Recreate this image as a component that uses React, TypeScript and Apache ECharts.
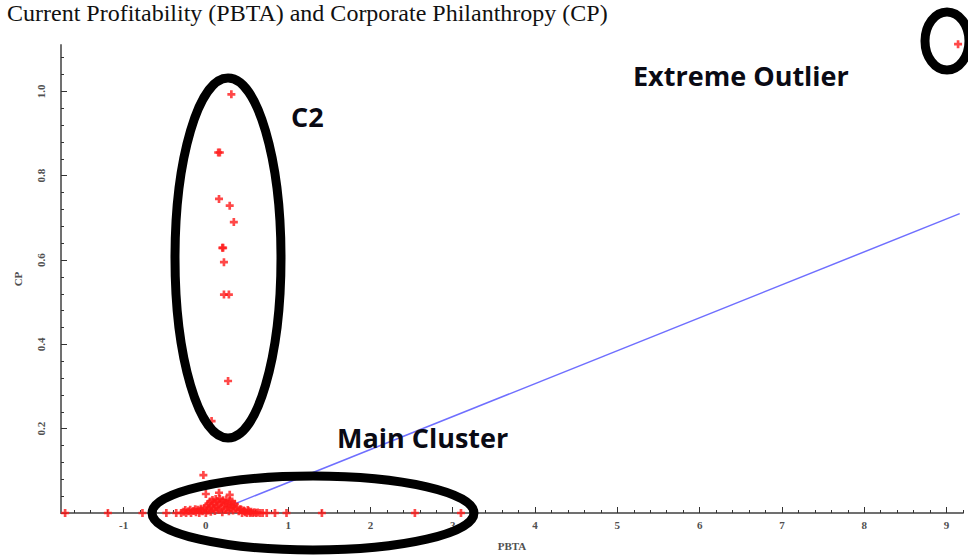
import React, { useEffect, useRef } from "react";
import * as echarts from "echarts";

// ---- data ----
const xMajorTicks = [-1, 0, 1, 2, 3, 4, 5, 6, 7, 8, 9];
const yMajorTicks = [0, 0.2, 0.4, 0.6, 0.8, 1.0];
const yTickLabels = [0.2, 0.4, 0.6, 0.8, 1.0];

// C2 group (high CP, low PBTA)
const c2X = [0.31, 0.15, 0.17, 0.16, 0.29, 0.34, 0.2, 0.21, 0.22, 0.22, 0.28, 0.27, 0.07];
const c2Y = [0.993, 0.855, 0.855, 0.745, 0.729, 0.69, 0.629, 0.629, 0.595, 0.518, 0.518, 0.313, 0.218];

// extreme outlier
const outlierX = [9.14];
const outlierY = [1.112];

// low points just above the main cluster
const lowX = [-0.03, 0.0, 0.16, 0.29];
const lowY = [0.09, 0.045, 0.048, 0.043];

// spread points lying on the axis
const axisX = [-1.71, -1.19, -0.77, -0.48, -0.36, 0.74, 0.84, 0.98, 1.41, 2.54, 3.1];
const axisY = [0, 0, 0, 0, 0, 0, 0, 0, 0, 0, 0];

// main cluster mass
const clusterX = [
  -0.3, -0.27, -0.24, -0.21, -0.18, -0.15, -0.12, -0.1, -0.08, -0.06, -0.04, -0.02, 0.0, 0.01,
  0.02, 0.03, 0.04, 0.05, 0.06, 0.07, 0.08, 0.09, 0.1, 0.11, 0.12, 0.13, 0.14, 0.15, 0.16, 0.17,
  0.18, 0.19, 0.2, 0.21, 0.22, 0.23, 0.24, 0.25, 0.26, 0.27, 0.28, 0.29, 0.3, 0.31, 0.32, 0.33,
  0.34, 0.35, 0.36, 0.38, 0.4, 0.42, 0.44, 0.46, 0.48, 0.5, 0.52, 0.54, 0.57,
  0.59, 0.61, 0.63, 0.66, 0.69, -0.25, -0.19, -0.13, -0.07, 0.43, 0.47, 0.51, 0.55,
];
const clusterY = [
  0, 0.003, 0, 0.004, 0, 0.005, 0.002, 0.008, 0, 0.01, 0.004, 0.012, 0, 0.016,
  0.006, 0.022, 0.01, 0.027, 0.003, 0.018, 0.031, 0.012, 0.024, 0.005, 0.033, 0.015, 0.028, 0.008, 0.02, 0.034,
  0.011, 0.026, 0.002, 0.03, 0.017, 0.024, 0.007, 0.032, 0.014, 0.022, 0.004, 0.029, 0.012, 0.019, 0.027, 0.006,
  0.016, 0.022, 0.01, 0.014, 0.004, 0.009, 0, 0.006, 0.002, 0, 0.004, 0, 0,
  0.002, 0, 0.001, 0, 0, 0.007, 0.008, 0.009, 0.006, 0.008, 0.004, 0.007, 0.003,
];

// fitted regression line (end points)
const fitX = [0.29, 9.16];
const fitY = [0.017, 0.71];

const PLUS = "path://M3,0L6,0L6,3L9,3L9,6L6,6L6,9L3,9L3,6L0,6L0,3L3,3Z";

function zip(xs: number[], ys: number[]) {
  return xs.map((x, i) => [x, ys[i]]);
}

function minorBetween(majors: number[], step: number, lo: number, hi: number) {
  const out: number[] = [];
  const n = Math.round((hi - lo) / step);
  for (let i = 0; i <= n; i++) {
    const v = +(lo + i * step).toFixed(4);
    if (!majors.some((m) => Math.abs(m - v) < 1e-6)) out.push(v);
  }
  return out;
}

const X_MIN = -1.76;
const X_MAX = 9.2;
const Y_MIN = 0;
const Y_MAX = 1.11;

export default function App() {
  const ref = useRef<HTMLDivElement>(null);
  useEffect(() => {
    if (!ref.current) return;
    const chart = echarts.init(ref.current, undefined, { renderer: "svg" });
    const axisColor = "#707070";
    const labelStyle = {
      fontFamily: "Liberation Serif",
      fontSize: 11,
      fontWeight: "bold" as const,
      color: "#505050",
    };
    const xMinor = minorBetween(xMajorTicks, 0.2, -1.6, 9.2);
    const yMinor = minorBetween(yMajorTicks, 0.04, 0.04, 1.08);
    const allPoints = [
      ...zip(clusterX, clusterY),
      ...zip(axisX, axisY),
      ...zip(lowX, lowY),
      ...zip(c2X, c2Y),
      ...zip(outlierX, outlierY),
    ];
    const annot = {
      fontFamily: "Open Sans",
      fontWeight: "bold" as const,
      fontSize: 27,
      fill: "#0a0a14",
      verticalAlign: "middle" as const,
    };
    chart.setOption({
      animation: false,
      grid: { left: 61, right: 5, top: 45, bottom: 42, containLabel: false },
      xAxis: [
        {
          type: "value",
          min: X_MIN,
          max: X_MAX,
          position: "bottom",
          name: "PBTA",
          nameLocation: "middle",
          nameGap: 27,
          nameTextStyle: { ...labelStyle, fontSize: 11 },
          axisLine: { show: true, onZero: false, lineStyle: { color: axisColor, width: 2 } },
          axisTick: { show: true, inside: true, length: 6, customValues: xMajorTicks, lineStyle: { color: "#333", width: 1 } },
          axisLabel: { show: true, margin: 6, customValues: xMajorTicks, ...labelStyle, formatter: (v: number) => String(Math.round(v)) },
          splitLine: { show: false },
        },
        {
          type: "value",
          min: X_MIN,
          max: X_MAX,
          position: "bottom",
          axisLine: { show: false, onZero: false },
          axisTick: { show: true, inside: true, length: 3, customValues: xMinor, lineStyle: { color: "#333", width: 1 } },
          axisLabel: { show: false },
          splitLine: { show: false },
        },
      ],
      yAxis: [
        {
          type: "value",
          min: Y_MIN,
          max: Y_MAX,
          position: "left",
          name: "CP",
          nameLocation: "middle",
          nameGap: 38,
          nameRotate: 90,
          nameTextStyle: { ...labelStyle, fontSize: 11 },
          axisLine: { show: true, onZero: false, lineStyle: { color: axisColor, width: 2 } },
          axisTick: { show: true, inside: true, length: 6, customValues: yMajorTicks, lineStyle: { color: "#333", width: 1 } },
          axisLabel: { show: true, margin: 15, rotate: 90, customValues: yTickLabels, ...labelStyle, formatter: (v: number) => v.toFixed(1) },
          splitLine: { show: false },
        },
        {
          type: "value",
          min: Y_MIN,
          max: Y_MAX,
          position: "left",
          axisLine: { show: false, onZero: false },
          axisTick: { show: true, inside: true, length: 3, customValues: yMinor, lineStyle: { color: "#333", width: 1 } },
          axisLabel: { show: false },
          splitLine: { show: false },
        },
      ],
      series: [
        {
          type: "line",
          data: zip(fitX, fitY),
          showSymbol: false,
          symbol: "none",
          clip: false,
          lineStyle: { color: "#6f6fff", width: 1.5 },
          z: 1,
        },
        {
          type: "scatter",
          data: allPoints,
          symbol: PLUS,
          symbolSize: 8,
          clip: false,
          itemStyle: { color: "#ff1a1a" },
          z: 3,
        },
      ],
      graphic: [
        {
          type: "text",
          x: 7,
          y: 1,
          style: {
            text: "Current Profitability (PBTA) and Corporate Philanthropy (CP)",
            fontFamily: "Liberation Serif",
            fontSize: 24,
            fill: "#111",
            verticalAlign: "top",
          },
        },
        {
          type: "ellipse",
          shape: { cx: 228, cy: 258, rx: 53, ry: 180 },
          style: { fill: "none", stroke: "#000", lineWidth: 9 },
          z: 10,
        },
        {
          type: "ellipse",
          shape: { cx: 313, cy: 513, rx: 161, ry: 37 },
          style: { fill: "none", stroke: "#000", lineWidth: 9 },
          z: 10,
        },
        {
          type: "ellipse",
          shape: { cx: 947, cy: 41, rx: 22, ry: 29 },
          style: { fill: "none", stroke: "#000", lineWidth: 9 },
          z: 10,
        },
        { type: "text", x: 633, y: 75, style: { text: "Extreme Outlier", ...annot }, z: 10 },
        { type: "text", x: 291, y: 116, style: { text: "C2", ...annot }, z: 10 },
        { type: "text", x: 337, y: 437, style: { text: "Main Cluster", ...annot }, z: 10 },
      ],
    });
    return () => chart.dispose();
  }, []);
  return <div ref={ref} style={{ width: 968, height: 556, position: "absolute", left: 0, top: 0 }} />;
}
